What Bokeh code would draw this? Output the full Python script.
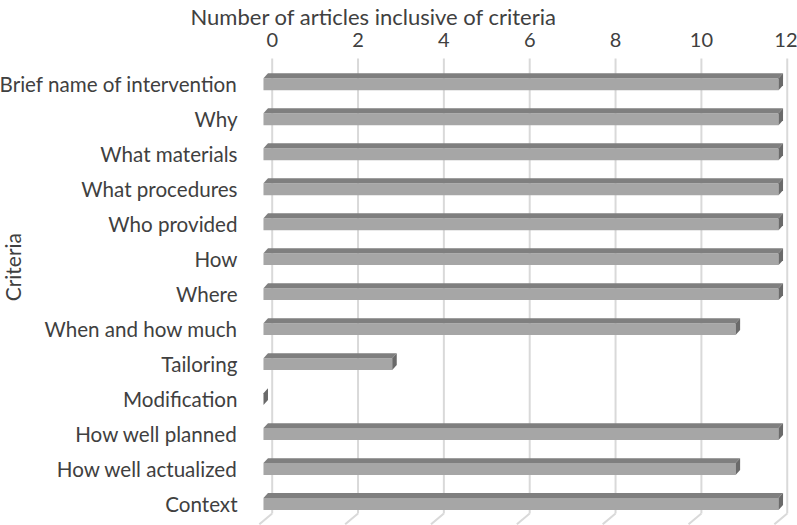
from math import pi
from bokeh.plotting import figure
from bokeh.models import Range1d, FixedTicker, Title
from bokeh.core.properties import value
from bokeh.embed import file_html
from bokeh.resources import INLINE

# ---- data -------------------------------------------------------------
criteria = [
    "Brief name of intervention", "Why", "What materials", "What procedures",
    "Who provided", "How", "Where", "When and how much", "Tailoring",
    "Modification", "How well planned", "How well actualized", "Context",
]
articles = [12, 12, 12, 12, 12, 12, 12, 11, 3, 0, 12, 11, 12]
x_ticks = [0, 2, 4, 6, 8, 10, 12]
title_text = "Number of articles inclusive of criteria"
y_title = "Criteria"

# ---- style -------------------------------------------------------------
FONT = "Lato"
TEXT = "#404040"
FRONT = "#a6a6a6"
TOP = "#7f7f7f"
SIDE = "#6a6a6a"
GRID = "#d9d9d9"

# 3-D geometry in data units
shift = 0.203      # front plane offset to the left of the back wall
dx, dy = 0.105, 0.142
half = 0.17
grid_top, grid_bottom = -0.739, 12.27
floor_dx, floor_dy = 0.30, 0.31
label_x = -0.808       # right edge of category labels
label_dy = 0.0
ytitle_x, ytitle_y = -6.04, 5.227

p = figure(width=797, height=525,
           x_range=Range1d(-6.330, 12.239), y_range=Range1d(12.614, -0.88),
           x_axis_location="above", title=None,
           output_backend="svg", toolbar_location=None,
           min_border_left=0, min_border_right=0,
           min_border_top=50, min_border_bottom=0)
p.outline_line_color = None
p.xgrid.visible = False
p.ygrid.visible = False
p.yaxis.visible = False
p.background_fill_color = "white"
p.border_fill_color = "white"

# back-wall grid lines and floor ticks
n = len(x_ticks)
p.segment(x0=x_ticks, y0=[grid_top] * n, x1=x_ticks, y1=[grid_bottom] * n,
          line_color=GRID, line_width=2)
p.segment(x0=x_ticks, y0=[grid_bottom] * n,
          x1=[t - floor_dx for t in x_ticks], y1=[grid_bottom + floor_dy] * n,
          line_color=GRID, line_width=2)

rows = list(range(len(criteria)))
# front faces
p.quad(left=[-shift] * len(rows), right=[v - shift for v in articles],
       top=[r - half for r in rows], bottom=[r + half for r in rows],
       fill_color=FRONT, line_color=None)
# top and side faces
top_xs, top_ys, side_xs, side_ys = [], [], [], []
for r, v in zip(rows, articles):
    x0, x1 = -shift, v - shift
    yt, yb = r - half, r + half
    top_xs.append([x0, x1, x1 + dx, x0 + dx])
    top_ys.append([yt, yt, yt - dy, yt - dy])
    side_xs.append([x1, x1, x1 + dx, x1 + dx])
    side_ys.append([yt, yb, yb - dy, yt - dy])
p.patches(xs=top_xs, ys=top_ys, fill_color=TOP, line_color=None)
p.patches(xs=side_xs, ys=side_ys, fill_color=SIDE, line_color=None)

# category labels
p.text(x=[label_x] * len(rows), y=[r + label_dy for r in rows], text=criteria,
       text_align="right", text_baseline="middle",
       text_font=value(FONT), text_font_size="20.6px", text_color=TEXT)
# y title
p.text(x=[ytitle_x], y=[ytitle_y], text=[y_title], angle=pi / 2,
       text_align="center", text_baseline="middle",
       text_font=value(FONT), text_font_size="21px", text_color=TEXT)

# x axis on top
xa = p.xaxis[0]
xa.ticker = FixedTicker(ticks=x_ticks)
xa.axis_line_color = None
xa.major_tick_line_color = None
xa.minor_tick_line_color = None
xa.major_label_standoff = 1
xa.major_label_text_font = FONT
xa.major_label_text_font_size = "20px"
xa.major_label_text_color = TEXT

p.add_layout(Title(text=title_text, align="left", offset=190, standoff=0,
                   text_font=FONT, text_font_size="22px", text_font_style="normal",
                   text_color=TEXT), "above")

open("out.html", "w").write(file_html(p, INLINE))
